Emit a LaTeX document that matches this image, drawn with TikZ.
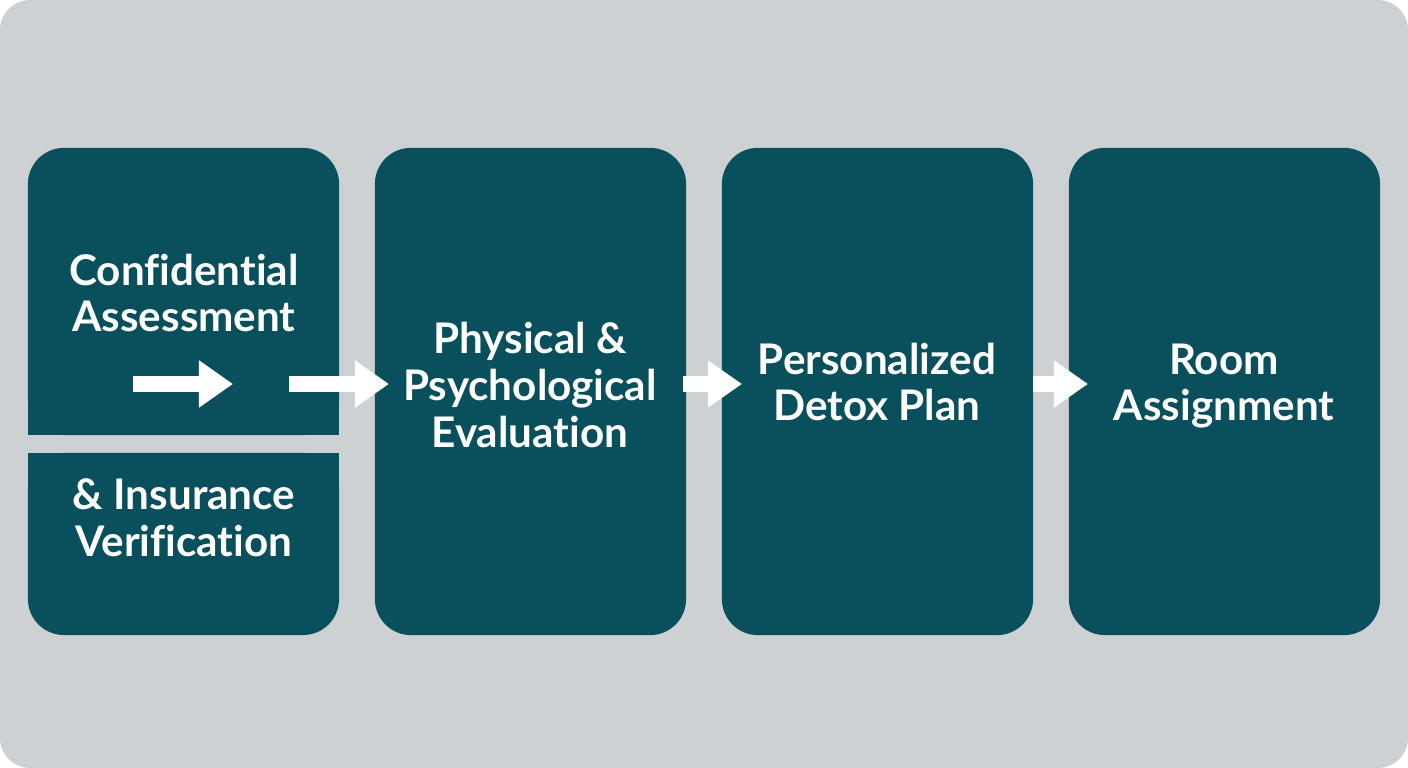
\documentclass[tikz,border=0pt]{standalone}
\usepackage{fontspec}
\setmainfont{Lato}[Ligatures=NoCommon]
\usetikzlibrary{arrows.meta}
\definecolor{panelgray}{HTML}{CDD1D4}
\definecolor{stepteal}{HTML}{0A4F5C}

\begin{document}
\begin{tikzpicture}[x=0.01cm,y=-0.01cm]

\tikzset{StepBox/.style={fill=stepteal,rounded corners=0.36cm,minimum width=3.11cm,minimum height=4.87cm,inner sep=0pt,outer sep=0pt},
  StepText/.style={text=white,font=\bfseries\fontsize{12}{13.3}\selectfont,align=center,inner sep=0pt},
  FlowArrow/.style={draw=white,line width=0.16cm,-{Triangle[length=0.34cm,width=0.45cm]}}}

  % page and panel
  \fill[white] (0,0) rectangle (1408,768);
  \fill[panelgray,rounded corners=0.3cm] (0,0) rectangle (1408,768);

  % first step, split in two
  \node[StepBox,minimum height=2.87cm] (assess) at (183.5,291.5) {};
  \fill[stepteal] (assess.west) rectangle (assess.south east);
  \node[StepBox,minimum height=1.82cm] (verify) at (183.5,544) {};
  \fill[stepteal] (verify.north west) rectangle (verify.east);

  \node[StepBox] (evalbox) at (530.5,391.5) {};
  \node[StepBox] (planbox) at (877.5,391.5) {};
  \node[StepBox] (roombox) at (1224.5,391.5) {};

  \node[StepText] (assesslbl) at (184,293) {Confidential\\Assessment};
  \node[StepText] (verifylbl) at (184,518) {\& Insurance\\Verification};
  \node[StepText] (evallbl) at (530,385) {Physical \&\\Psychological\\Evaluation};
  \node[StepText] (planlbl) at (877,382) {Personalized\\Detox Plan};
  \node[StepText] (roomlbl) at (1224,386) {Room\\Assignment};

  \coordinate (a1s) at (133,384); \coordinate (a1e) at (233,384);
  \coordinate (a2s) at (289,384); \coordinate (a2e) at (389,384);
  \coordinate (a3s) at (683,384); \coordinate (a3e) at (742,384);
  \coordinate (a4s) at (1033,384); \coordinate (a4e) at (1088,384);

  \draw[FlowArrow] (a1s) -- (a1e);
  \draw[FlowArrow] (a2s) -- (a2e);
  \draw[FlowArrow] (a3s) -- (a3e);
  \draw[FlowArrow] (a4s) -- (a4e);

\end{tikzpicture}
\end{document}
